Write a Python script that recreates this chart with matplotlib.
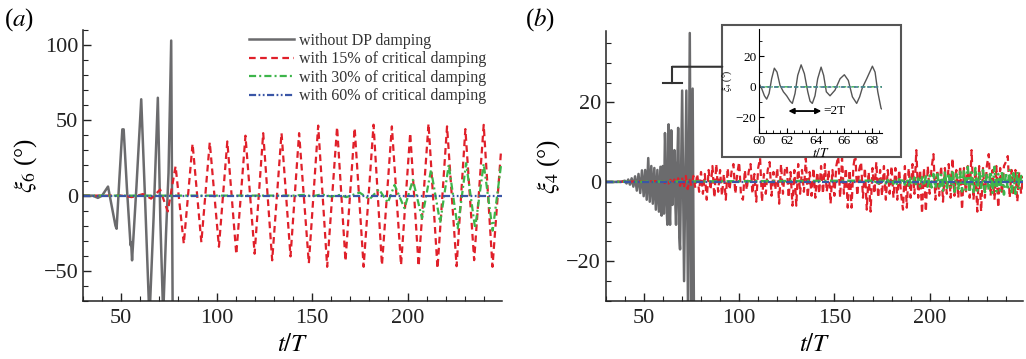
import numpy as np
import matplotlib
matplotlib.use('Agg')
import matplotlib.pyplot as plt
from matplotlib.patches import Rectangle, ConnectionPatch
from matplotlib.ticker import MultipleLocator
import matplotlib.transforms as mtransforms

plt.rcParams['font.family'] = ['Liberation Serif', 'DejaVu Serif']
plt.rcParams['mathtext.fontset'] = 'stix'

# ---------------- panel (a): xi_6 ----------------
grey_a_t = [30, 35, 37.8, 40, 43.1, 45.5, 47.0, 47.6, 49.0, 50.6,
            51.3, 53.0, 54.9, 55.2, 55.7, 58.0, 60.5, 62.5, 64.8, 67.0,
            69.2, 70.5, 72.0, 73.5, 74.8, 76.2, 77.0]
grey_a = [0, 0, -1.5, 0, 6, -10, -20, -22, 10, 44,
          44, 5, -33, -31, -43, 6, 64, -2, -82, -14,
          65, -16, -80, -25, 15, 103, -85]

red_a_t = [30, 50, 55.5, 61.4, 65.7, 70.4, 74.4, 78.5,
           82.8, 87.4, 92.0, 96.4, 101.2, 105.6, 110.3, 115.1, 119.9, 124.4,
           129.1, 134.0, 138.7, 143.2, 148.3, 153.2, 157.9, 163.1, 167.5, 172.3,
           177.0, 182.2, 186.6, 191.8, 196.6, 201.4, 205.8, 211.0, 215.7, 220.7,
           225.7, 230.3, 234.9, 239.9, 244.5, 249.0]
red_a = [0, 0, -1, 1, -2, 4, -10.5, 19.5,
         -32, 34.5, -31, 35.4, -34, 36, -39, 39.8, -38.6, 41.5,
         -43, 41.5, -40.4, 41.5, -45, 46.5, -47.3, 45.6, -43.5, 44.9,
         -47.3, 47.1, -46.2, 46, -46.2, 41.5, -46.9, 47.8, -48.4, 46,
         -46.9, 44.2, -42.9, 47, -47.3, 30]

green_a_t = [30, 140, 146, 150, 155, 160, 164.4, 167.9,
             174.9, 180.1, 185.0, 189.7, 193.2, 198.4, 202.8, 207.6, 212.3,
             217.1, 221.6, 226.3, 230.7, 235.4, 239.9, 244.6, 249.0]
green_a = [0, 0, 0.5, -0.5, 0.8, -0.6, 0.4, -1,
           2, -2.4, 4.2, -4.7, 7.1, -8.4, 10.5, -15.1, 17.1,
           -18, 20.5, -21.7, 21.6, -21.7, 21.1, -23.3, 20.5]

blue_a_t = [30, 249.5]
blue_a = [0, 0]

# ---------------- panel (b): xi_4 ----------------
grey_b_t = [30, 38, 40.0, 40.9, 41.8, 42.7, 43.6, 44.5, 45.4, 46.3,
            47.2, 48.1, 49.0, 49.9, 50.7, 51.5, 52.3, 53.1, 53.9, 54.7,
            55.5, 56.3, 57.1, 57.9, 58.7, 59.3, 59.9,
            60.19, 60.38, 60.54, 60.71, 60.89, 61.08, 61.27, 61.48, 61.72, 61.95,
            62.19, 62.35, 62.54, 62.73, 62.97, 63.2, 63.44, 63.6, 63.76, 63.95,
            64.14, 64.38, 64.56, 64.75, 65.01, 65.36, 65.72, 66.02, 66.3, 66.59,
            66.89, 67.1, 67.29, 67.6, 68.0, 68.19, 68.38, 68.61,
            69.0, 70.1, 71.1, 72.3, 73.2, 74.1, 74.9, 75.6, 76.3]
grey_b = [0, 0, 0.3, -0.4, 0.6, -0.7, 0.9, -1.2, 1.4, -2.2,
          2.0, -2.8, 2.9, -3.6, 3.0, -4.5, 6.0, -5.0, 4.0, -5.5,
          3.5, -7.0, 3.0, -7.5, 3.8, -8.5, 4.0,
          -1.1, -5.8, -8.0, -4.3, 5.4, 12.3, 9.7, 1.1, -3.2, -5.8,
          -9.3, -10.8, -4.3, 7.6, 14.5, 8.7, -3.2, -9.3, -10.8, -5.8,
          5.4, 13.0, 7.6, -3.2, -5.8, -2.1, 5.4, 8.0, 4.3, -6.5,
          -10.8, -6.5, -0.6, 5.4, 13.6, 9.7, -3.2, -14.0,
          -17, 23, -25, 23, -34, 37.5, -34, 23.5, -35]

# sampled once per t/T from t/T = 60 (first value is the t/T = 30 start)
red_b = [0,
         0.2, -0.3, 0.4, -0.4, 0.5, -0.6, 0.6, -0.8, 0.9, -1.0, 1.2, -1.5, 1.5, -1.8,
         0.5, -1, 1.5, -1.5, 2, -2.5, 2.5, -3, 2, -4.5,
         3, -2, 4, -4, 4.5, -2.5, 3, -3.5, 2, -4.5,
         3.5, -2, 2.5, 4.5, -3, 2, 5, -3.5, -4.5, 3,
         -2, 2.5, 4.5, -3, 2, -5, 3.5, 6, -5, 2,
         -3, 3, 5, -3.5, 2.5, -2, 3.5, -5.5, 4.5, -3,
         3, 4, -4, 2.5, -6, 3, -6, 4.5, -3, 3,
         -2.5, 6, -4, 2.5, -3.5, 3.5, -4, 2.5, -3, 4,
         -3, 4.5, -2.5, 3, -5.5, 3, -3.5, 4, 6.5, -4,
         6, -3, 3.5, -6.5, 3, -6.5, 4, 7, -3.5, 3,
         5, -4, 3.5, -7, 2.5, -7.5, 3.5, -3, 5, -4,
         3, -3.5, 4, -4.5, 3, -3, 4, -4, 3.5, -4.5,
         3, -3, -7, 4, -6.5, 3.5, -4, 4.5, -3, 8,
         -4, 3, -8, 3.5, -7.5, 4, -3, 3.5, 7, -4.5,
         3, -3.5, 4, -5, 3.5, -3, 4.5, -4, 6, -3.5,
         3, -4, 4, -7, 3.5, -3, 4, -4, 8, -4.5,
         3, -7.5, 4, -7.5, 3.5, -4, 4, 7, -3.5, 3,
         -4.5, 4, -6.5, 3.5, -3, 4, 5, 6.5, -4, 3,
         -3.5, 3, -5, 2.5, -3, 1.5]
red_b_t = np.r_[30, 60 + np.arange(len(red_b) - 1)]

# sampled once per t/T from t/T = 170
green_b = [0,
           0.3, -0.3, 0.5, -0.4, 0.4, -0.5, 0.6, -0.4, 0.5, -0.6,
           0.7, -0.5, 0.6, -0.8, 0.7, -0.6, 0.9, -0.7, 0.8, -0.9,
           1.0, -0.8, 1.1, -1.0, 0.9, -1.2, 1.2, -1.0, 1.4, -1.2,
           1.6, -1.4, 2.0, -1.5, 2.5, -1.8, 1.8, -2.2, 2.8, -2.0,
           2.2, -1.6, 3.0, -2.5, 2.0, -1.8, 2.6, -2.4, 3.2, -2.0,
           3.8, -2.6, 2.4, -3.0, 3.5, -2.2, 2.8, -1.8, 3.0, -2.6,
           2.2, -2.0, 2.6, -2.8, 3.8, -2.4, 2.0, -2.2, 2.8, -3.2,
           2.4, -2.0, 3.0, -2.6, 2.2, -3.0, 2.6, -1.8, 1.5, -1.0]
green_b_t = np.r_[30, 170 + np.arange(len(green_b) - 1)]

blue_b_t = [30, 249]
blue_b = [0, 0]

labels = ['without DP damping', 'with 15% of critical damping',
          'with 30% of critical damping', 'with 60% of critical damping']

GREY, RED, GREEN, BLUE = '#6b6b6d', '#e0202a', '#3db54a', '#3a56a6'
red_ls = (0, (3.0, 2.0))
green_ls = (0, (3.2, 1.4, 0.9, 1.4))
blue_ls = (0, (3.2, 1.1, 0.8, 1.1, 0.8, 1.1))


def style_axes(ax, ymaj, ymin, size=16):
    ax.spines['top'].set_visible(False)
    ax.spines['right'].set_visible(False)
    for s in ['left', 'bottom']:
        ax.spines[s].set_linewidth(1.1)
        ax.spines[s].set_color('#222222')
    ax.xaxis.set_major_locator(MultipleLocator(50))
    ax.xaxis.set_minor_locator(MultipleLocator(10))
    ax.yaxis.set_major_locator(MultipleLocator(ymaj))
    ax.yaxis.set_minor_locator(MultipleLocator(ymin))
    ax.tick_params(which='both', direction='in', top=False, right=False,
                   labelsize=size, colors='#222222')
    ax.tick_params(axis='x', which='major', pad=6)
    ax.tick_params(which='major', length=6, width=1)
    ax.tick_params(which='minor', length=3.5, width=0.8)


fig = plt.figure(figsize=(10.26, 3.59), dpi=100)

# ---- (a)
ax1 = fig.add_axes([0.0809, 0.1616, 0.4084, 0.7548])
ax1.plot(grey_a_t, grey_a, color=GREY, lw=1.8, label=labels[0])
ax1.plot(red_a_t, red_a, color=RED, lw=1.6, ls=red_ls, label=labels[1])
ax1.plot(green_a_t, green_a, color=GREEN, lw=1.6, ls=green_ls, label=labels[2])
ax1.plot(blue_a_t, blue_a, color=BLUE, lw=1.6, ls=blue_ls, label=labels[3])
ax1.set_xlim(30, 249.5)
ax1.set_ylim(-70, 110)
style_axes(ax1, 50, 10)
ax1.set_xlabel(r'$t/T$', fontsize=18, labelpad=4)
ax1.set_ylabel(r'$\xi_6$ (°)', fontsize=18, labelpad=3)
leg = ax1.legend(loc='upper right', bbox_to_anchor=(0.985, 1.025), frameon=False,
                 fontsize=11.5, handlelength=2.8, handletextpad=0.3,
                 labelspacing=0.16, borderaxespad=0.2)
for t in leg.get_texts():
    t.set_color('#333333')

# ---- (b)
ax2 = fig.add_axes([0.5904, 0.1616, 0.4067, 0.7520])
ax2.plot(grey_b_t, grey_b, color=GREY, lw=1.8)
ax2.plot(red_b_t, red_b, color=RED, lw=1.6, ls=red_ls)
ax2.plot(green_b_t, green_b, color=GREEN, lw=1.8, ls=green_ls)
ax2.plot(blue_b_t, blue_b, color=BLUE, lw=1.6, ls=blue_ls)
ax2.set_xlim(30, 249)
ax2.set_ylim(-30, 38)
style_axes(ax2, 20, 5)
ax2.set_xlabel(r'$t/T$', fontsize=18, labelpad=4)
ax2.set_ylabel(r'$\xi_4$ (°)', fontsize=18, labelpad=3)

# bracket marking the zoomed window
ax2.plot([60, 70], [25, 25], color='#333333', lw=1.5)
ax2.plot([65, 65], [25, 29], color='#333333', lw=1.5)

# inset frame and axes
frame = Rectangle((0.704, 0.5635), 0.1739, 0.3669, transform=fig.transFigure,
                  facecolor='white', edgecolor='#555555', lw=1.5, zorder=2)
fig.add_artist(frame)
blend = mtransforms.blended_transform_factory(fig.transFigure, ax2.transData)
con = ConnectionPatch(xyA=(65, 29), coordsA=ax2.transData,
                      xyB=(0.704, 29), coordsB=blend,
                      color='#333333', lw=1.5, zorder=2)
fig.add_artist(con)

axi = fig.add_axes([0.7398, 0.6304, 0.1196, 0.2888], zorder=3)
axi.set_facecolor('white')
axi.plot(grey_b_t, grey_b, color='#555555', lw=1.0)
axi.plot(green_b_t, green_b, color=GREEN, lw=1.0, ls=green_ls)
axi.plot(blue_b_t, blue_b, color='#4a7d96', lw=1.2, ls=(0, (2.5, 1.5)))
axi.set_xlim(60, 68.66)
axi.set_ylim(-30, 38)
axi.spines['top'].set_visible(False)
axi.spines['right'].set_visible(False)
axi.xaxis.set_major_locator(MultipleLocator(2))
axi.xaxis.set_minor_locator(MultipleLocator(0.5))
axi.yaxis.set_major_locator(MultipleLocator(20))
axi.yaxis.set_minor_locator(MultipleLocator(10))
axi.tick_params(which='both', direction='in', top=False, right=False,
                labelsize=9.5, pad=2)
axi.tick_params(which='major', length=3.5)
axi.tick_params(which='minor', length=2)
axi.set_xlabel(r'$t/T$', fontsize=9.5, labelpad=0)
axi.set_ylabel(r'$\xi_4$ (°)', fontsize=7, labelpad=1)
axi.annotate('', xy=(62.07, -15.8), xytext=(64.4, -15.8),
             arrowprops=dict(arrowstyle='<|-|>', color='black', lw=1.3,
                             mutation_scale=8, shrinkA=0, shrinkB=0))
axi.text(64.55, -15.8, '=2T', fontsize=9.5, va='center', ha='left')

# panel letters
fig.text(0.004, 0.945, '($a$)', fontsize=18, va='center', ha='left')
fig.text(0.512, 0.945, '($b$)', fontsize=18, va='center', ha='left')

fig.savefig('out.png', dpi=100)
